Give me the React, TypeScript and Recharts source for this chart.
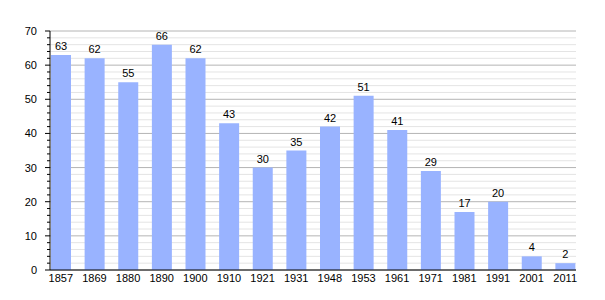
import { BarChart, Bar, XAxis, YAxis, CartesianGrid, LabelList } from 'recharts';

const years = ['1857', '1869', '1880', '1890', '1900', '1910', '1921', '1931', '1948', '1953', '1961', '1971', '1981', '1991', '2001', '2011'];
const population = [63, 62, 55, 66, 62, 43, 30, 35, 42, 51, 41, 29, 17, 20, 4, 2];
const yTicks = Array.from({ length: 36 }, (_, i) => i * 2);

const data = years.map((year, i) => ({ year, value: population[i] }));

const FONT = '"Liberation Sans", Arial, sans-serif';

// labels only on multiples of 10, short ticks for the rest
function YTick(props: any) {
  const { x, y, payload } = props;
  const major = payload.value % 10 === 0;
  return (
    <g>
      <line x1={x - (major ? 5 : 3)} y1={y} x2={x} y2={y} stroke="#000" strokeWidth={1} />
      {major && (
        <text x={x - 13} y={y} textAnchor="end" dominantBaseline="central" fontSize={11} fontFamily={FONT} fill="#000">
          {payload.value}
        </text>
      )}
    </g>
  );
}

function GridLine(props: any) {
  const { x1, x2, y1, y2, index } = props;
  const major = index % 5 === 0;
  return <line x1={x1} x2={x2} y1={y1} y2={y2} stroke={major ? '#b4b4b4' : '#e4e4e4'} strokeWidth={1} />;
}

export default function App() {
  return (
    <div style={{ position: 'absolute', left: 0, top: 0, background: '#fff' }}>
      <BarChart width={605} height={300} data={data} margin={{ top: 31, right: 29, left: 0, bottom: 0 }} barSize={20}>
        <CartesianGrid vertical={false} horizontal={GridLine} />
        <XAxis
          dataKey="year"
          padding={{ left: -6, right: -6 }}
          tickLine={false}
          axisLine={{ stroke: '#000' }}
          tick={{ fontSize: 11, fill: '#000', fontFamily: FONT }}
          tickSize={4}
          tickMargin={0}
          height={30}
          interval={0}
        />
        <YAxis
          domain={[0, 70]}
          ticks={yTicks}
          interval={0}
          width={50}
          tickSize={0}
          tickMargin={0}
          tickLine={false}
          axisLine={{ stroke: '#000' }}
          tick={YTick}
        />
        <Bar dataKey="value" fill="#99b3ff" isAnimationActive={false}>
          <LabelList dataKey="value" position="top" offset={5} fontSize={11} fill="#000" fontFamily={FONT} />
        </Bar>
      </BarChart>
    </div>
  );
}
